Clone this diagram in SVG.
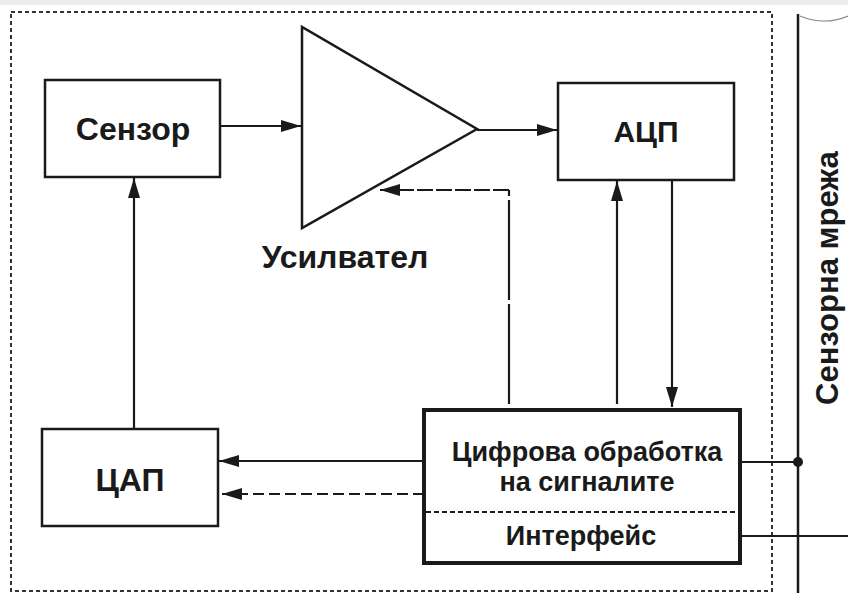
<svg xmlns="http://www.w3.org/2000/svg" width="848" height="596" viewBox="0 0 848 596">
<style>
.box{fill:#fff;stroke:#1a1a1a;stroke-width:2.5}
.thick{fill:#fff;stroke:#1a1a1a;stroke-width:4}
.ln{fill:none;stroke:#1a1a1a;stroke-width:2.2}
.dash{fill:none;stroke:#1a1a1a;stroke-width:2.2;stroke-dasharray:11 5}
.t{font-family:"Liberation Sans",Arial,sans-serif;font-weight:bold;fill:#1a1a1a;text-anchor:middle}
</style>
<defs>
<marker id="ah" markerWidth="20" markerHeight="12" refX="20" refY="6" orient="auto" markerUnits="userSpaceOnUse">
<path d="M0,0 L20,6 L0,12 Z" fill="#1a1a1a"/>
</marker>
</defs>
<rect x="0" y="0" width="848" height="596" fill="#fff"/>
<rect x="0" y="0" width="848" height="5" fill="#ececec"/>
<rect x="11" y="12" width="761" height="579" fill="none" stroke="#333" stroke-width="2" stroke-dasharray="4 3"/>
<g id="network">
<line x1="798" y1="14" x2="798" y2="593" stroke="#1a1a1a" stroke-width="2.5"/>
<path d="M800,16 Q824,26 848,16" fill="none" stroke="#888" stroke-width="1.2"/>
<text class="t" font-size="31" transform="translate(838,278) rotate(-90)">Сензорна мрежа</text>
</g>
<g id="sensor">
<rect class="box" x="45" y="80" width="175" height="97"/>
<text class="t" x="133" y="140" font-size="32">Сензор</text>
</g>
<g id="amplifier">
<polygon points="302,27 302,228 477,129" fill="#fff" stroke="#1a1a1a" stroke-width="2.5" stroke-linejoin="miter"/>
<text class="t" x="345" y="268" font-size="32">Усилвател</text>
</g>
<g id="adc">
<rect class="box" x="558" y="83" width="176" height="97"/>
<text class="t" x="646" y="142" font-size="30">АЦП</text>
</g>
<g id="dac">
<rect class="box" x="42" y="429" width="176" height="97"/>
<text class="t" x="130" y="491" font-size="32">ЦАП</text>
</g>
<g id="dsp">
<rect class="thick" x="424" y="410" width="316" height="153"/>
<line x1="426" y1="512" x2="738" y2="512" stroke="#1a1a1a" stroke-width="2" stroke-dasharray="5 3"/>
<text class="t" x="587" y="461" font-size="27">Цифрова обработка</text>
<text class="t" x="587" y="491" font-size="27">на сигналите</text>
<text class="t" x="581" y="545" font-size="27">Интерфейс</text>
</g>
<g id="connectors">
<line class="ln" x1="220" y1="126" x2="301" y2="126" marker-end="url(#ah)"/>
<line class="ln" x1="477" y1="130" x2="557" y2="130" marker-end="url(#ah)"/>
<line class="ln" x1="617" y1="404" x2="617" y2="181" marker-end="url(#ah)"/>
<line class="ln" x1="672" y1="180" x2="672" y2="407" marker-end="url(#ah)"/>
<line class="ln" x1="134" y1="429" x2="134" y2="178" marker-end="url(#ah)"/>
<line class="ln" x1="424" y1="461" x2="219" y2="461" marker-end="url(#ah)"/>
<line class="dash" x1="424" y1="494" x2="222" y2="494" marker-end="url(#ah)"/>
<polyline points="509,404 509,190" fill="none" stroke="#1a1a1a" stroke-width="2.2" stroke-dasharray="100 4"/>
<line x1="509" y1="190" x2="380" y2="190" stroke="#1a1a1a" stroke-width="2.2" stroke-dasharray="16 3" marker-end="url(#ah)"/>
<line class="ln" x1="740" y1="462" x2="798" y2="462"/>
<circle cx="798" cy="462" r="5" fill="#1a1a1a"/>
<line class="ln" x1="740" y1="536" x2="848" y2="536"/>
</g>
</svg>
